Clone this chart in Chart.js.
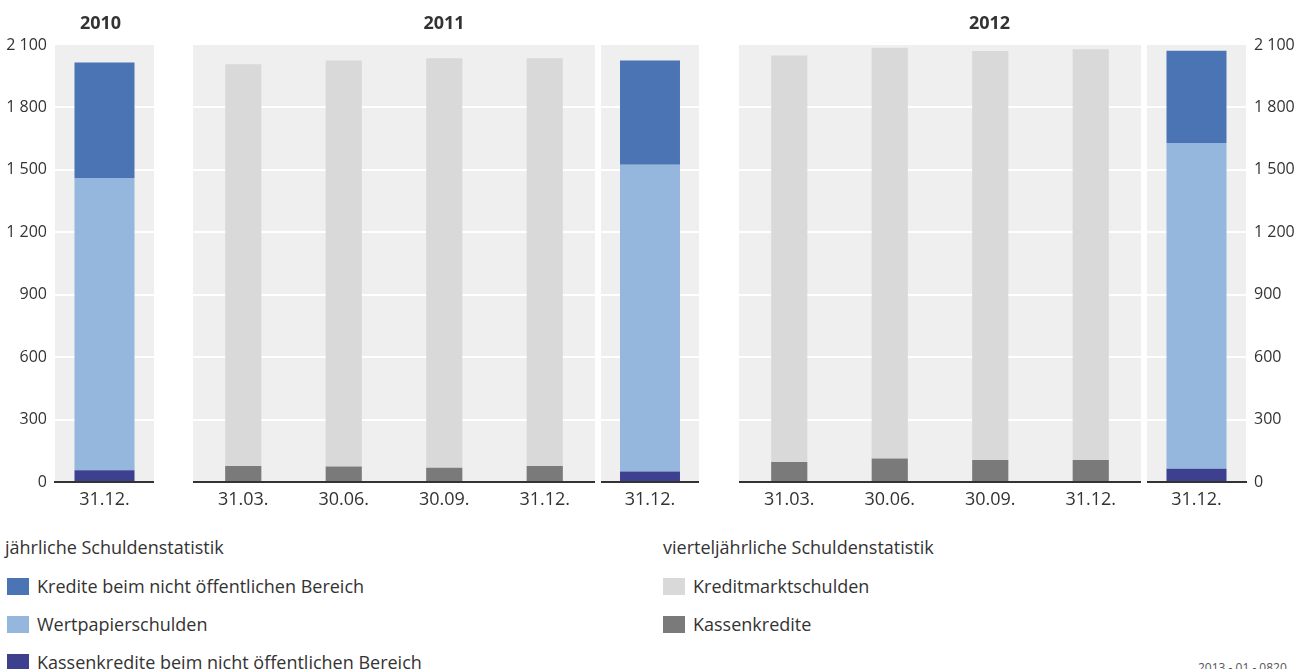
<!DOCTYPE html>
<html lang="de">
<head>
<meta charset="utf-8">
<script src="https://cdn.jsdelivr.net/npm/chart.js@4.4.1/dist/chart.umd.min.js"></script>
<style>
  body { margin: 0; background: #fff; font-family: "Open Sans", sans-serif; color: #333; }
  #wrap { position: relative; width: 1305px; height: 669px; overflow: hidden; }
  #wrap canvas { position: absolute; top: 0; }
  .year { position: absolute; top: 11px; font-size: 18px; line-height: 22px; font-weight: bold; text-align: center; }
  .legTitle { position: absolute; font-size: 18px; line-height: 22px; }
  .legItem { position: absolute; font-size: 18px; line-height: 22px; }
  .legItem span { position: absolute; left: -30px; top: 3px; width: 22px; height: 17px; }
  .stamp { position: absolute; left: 1198px; top: 659px; font-size: 12px; color: #555; }
</style>
</head>
<body>
<div id="wrap"></div>
<script>
// Jahre und Stichtage
const years = ['2010', '2011', '2012'];
const quarterLabels = ['31.03.', '30.06.', '30.09.', '31.12.'];
const annualLabels = ['31.12.'];

// jährliche Schuldenstatistik (Mrd. Euro), 2010 / 2011 / 2012
const krediteNichtOeff = [555, 501, 443];
const wertpapierschulden = [1405, 1474, 1565];
const kassenkrediteNichtOeff = [56, 51, 64];

// vierteljährliche Schuldenstatistik
const kreditmarkt2011 = [1930, 1952, 1967, 1959];
const kassen2011 = [77, 74, 69, 77];
const kreditmarkt2012 = [1953, 1974, 1965, 1973];
const kassen2012 = [96, 113, 106, 106];

const yTicks = [0, 300, 600, 900, 1200, 1500, 1800, 2100];

const annualNames = ['Kredite beim nicht öffentlichen Bereich', 'Wertpapierschulden', 'Kassenkredite beim nicht öffentlichen Bereich'];
const annualColors = ['#4a74b4', '#95b6dd', '#3d3f8f'];
const quarterNames = ['Kreditmarktschulden', 'Kassenkredite'];
const quarterColors = ['#d9d9d9', '#7a7a7a'];

const Y_FONT = { family: '"Open Sans", sans-serif', size: 16 };
const X_FONT = { family: '"Open Sans", sans-serif', size: 18 };
const wrap = document.getElementById('wrap');

const panelBg = {
  id: 'panelBg',
  beforeDraw(chart) {
    const { ctx, chartArea: a } = chart;
    ctx.save();
    ctx.fillStyle = '#efefef';
    ctx.fillRect(a.left, a.top, a.width, a.height);
    ctx.restore();
  }
};

function fmt(v) {
  return String(v).replace(/\B(?=(\d{3})+(?!\d))/g, ' ');
}

function annualSets(i) {
  return [
    { label: annualNames[2], data: [kassenkrediteNichtOeff[i]], backgroundColor: annualColors[2] },
    { label: annualNames[1], data: [wertpapierschulden[i]], backgroundColor: annualColors[1] },
    { label: annualNames[0], data: [krediteNichtOeff[i]], backgroundColor: annualColors[0] }
  ];
}

function quarterSets(kassen, kreditmarkt) {
  return [
    { label: quarterNames[1], data: kassen, backgroundColor: quarterColors[1] },
    { label: quarterNames[0], data: kreditmarkt, backgroundColor: quarterColors[0] }
  ];
}

function makePanel(left, width, labels, datasets, barPct, yPos, yWidth) {
  const canvas = document.createElement('canvas');
  canvas.width = width;
  canvas.height = 520;
  canvas.style.left = left + 'px';
  canvas.style.width = width + 'px';
  canvas.style.height = '520px';
  wrap.appendChild(canvas);

  datasets.forEach(d => { d.barPercentage = barPct; d.categoryPercentage = 1; d.borderWidth = 0; });

  new Chart(canvas, {
    type: 'bar',
    data: { labels: labels, datasets: datasets },
    options: {
      responsive: false,
      animation: false,
      layout: { padding: { top: 45, left: 0, right: 0, bottom: 0 }, autoPadding: false },
      plugins: { legend: { display: false }, tooltip: { enabled: false } },
      scales: {
        x: {
          stacked: true,
          grid: { display: false, drawTicks: false },
          border: { display: true, color: '#333', width: 2 },
          ticks: { color: '#333', padding: 7, font: X_FONT, maxRotation: 0 },
          afterFit: s => { s.height = 38; }
        },
        y: {
          stacked: true,
          position: yPos || 'left',
          min: 0,
          max: 2100,
          afterBuildTicks: s => { s.ticks = yTicks.map(v => ({ value: v })); },
          border: { display: false },
          grid: {
            drawTicks: false,
            lineWidth: 2,
            color: c => (c.tick && (c.tick.value === 0 || c.tick.value === 2100)) ? 'rgba(0,0,0,0)' : '#ffffff'
          },
          ticks: { display: !!yPos, padding: 8, color: '#333', font: Y_FONT, callback: v => fmt(v) },
          afterFit: s => { s.width = yWidth; }
        }
      }
    },
    plugins: [panelBg]
  });
}

makePanel(0, 154, annualLabels, annualSets(0), 0.606, 'left', 55);
makePanel(193, 402, quarterLabels, quarterSets(kassen2011, kreditmarkt2011), 0.36, null, 0);
makePanel(601, 98, annualLabels, annualSets(1), 0.612, null, 0);
makePanel(739, 402, quarterLabels, quarterSets(kassen2012, kreditmarkt2012), 0.36, null, 0);
makePanel(1147, 158, annualLabels, annualSets(2), 0.606, 'right', 59);

// Jahresköpfe
function addText(cls, text, style) {
  const d = document.createElement('div');
  d.className = cls;
  d.textContent = text;
  Object.assign(d.style, style);
  wrap.appendChild(d);
  return d;
}
addText('year', years[0], { left: '51px', width: '99px' });
addText('year', years[1], { left: '193px', width: '502px' });
addText('year', years[2], { left: '739px', width: '501px' });

// Legende
addText('legTitle', 'jährliche Schuldenstatistik', { left: '5px', top: '536px' });
addText('legTitle', 'vierteljährliche Schuldenstatistik', { left: '663px', top: '536px' });
function addItem(name, color, left, top) {
  const d = addText('legItem', name, { left: left + 'px', top: top + 'px' });
  const sw = document.createElement('span');
  sw.style.background = color;
  d.appendChild(sw);
}
annualNames.forEach((n, i) => addItem(n, annualColors[i], 37, 575 + i * 38));
quarterNames.forEach((n, i) => addItem(n, quarterColors[i], 693, 575 + i * 38));

addText('stamp', '2013 - 01 - 0820', {});
</script>
</body>
</html>
